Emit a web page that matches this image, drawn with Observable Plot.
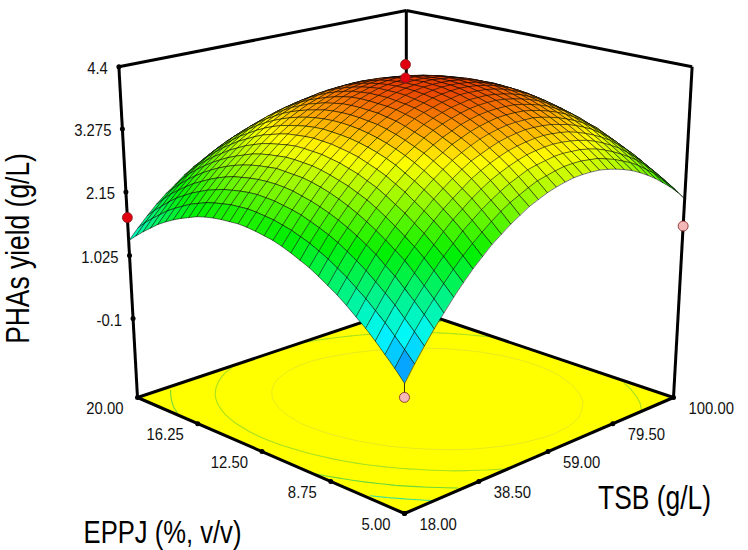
<!DOCTYPE html>
<html><head><meta charset="utf-8">
<style>html,body{margin:0;background:#fff}svg{display:block}</style>
<script src="https://cdn.jsdelivr.net/npm/d3@7"></script>
<script src="https://cdn.jsdelivr.net/npm/@observablehq/plot@0.6"></script>
</head><body><script>
const eppjTicks=[5,8.75,12.5,16.25,20];
const tsbTicks=[18,38.5,59,79.5,100];
const zTicks=[-0.1,1.025,2.15,3.275,4.4];
// PHAs yield (g/L) estimated from the picture on the 33 x 33 mesh.
// One row per TSB step (18 to 100 g/L); within a row, EPPJ runs from 5 to 20 %.
const yieldGrid=[
[.57,.75,.91,1.07,1.22,1.35,1.48,1.60,1.70,1.80,1.89,1.96,2.03,2.09,2.14,2.17,2.20,2.22,2.23,2.22,2.21,2.19,2.16,2.12,2.06,2.00,1.93,1.85,1.76,1.65,1.54,1.42,1.29],
[.82,.99,1.15,1.31,1.45,1.59,1.71,1.83,1.93,2.03,2.11,2.19,2.25,2.31,2.35,2.39,2.41,2.43,2.44,2.43,2.42,2.39,2.36,2.32,2.26,2.20,2.12,2.04,1.95,1.84,1.73,1.61,1.47],
[1.05,1.22,1.38,1.54,1.68,1.81,1.94,2.05,2.15,2.25,2.33,2.40,2.46,2.52,2.56,2.59,2.62,2.63,2.64,2.63,2.61,2.58,2.55,2.50,2.45,2.38,2.31,2.22,2.13,2.02,1.90,1.78,1.64],
[1.27,1.44,1.60,1.75,1.90,2.02,2.15,2.26,2.36,2.45,2.53,2.60,2.66,2.71,2.75,2.79,2.81,2.82,2.82,2.81,2.79,2.76,2.73,2.68,2.62,2.55,2.47,2.39,2.29,2.18,2.07,1.94,1.80],
[1.47,1.64,1.80,1.95,2.10,2.22,2.34,2.45,2.55,2.64,2.72,2.79,2.85,2.90,2.94,2.97,2.98,2.99,3.00,2.98,2.96,2.93,2.89,2.84,2.78,2.71,2.63,2.54,2.44,2.33,2.21,2.08,1.94],
[1.67,1.83,1.99,2.14,2.28,2.40,2.52,2.63,2.73,2.82,2.89,2.96,3.01,3.06,3.10,3.13,3.14,3.15,3.15,3.13,3.11,3.08,3.04,2.98,2.92,2.85,2.77,2.68,2.58,2.47,2.35,2.21,2.06],
[1.85,2.01,2.17,2.31,2.45,2.57,2.69,2.79,2.89,2.98,3.05,3.12,3.17,3.22,3.25,3.28,3.29,3.30,3.30,3.28,3.25,3.22,3.18,3.12,3.06,2.98,2.90,2.80,2.70,2.59,2.47,2.33,2.19],
[2.02,2.18,2.33,2.48,2.61,2.73,2.84,2.95,3.04,3.13,3.20,3.26,3.32,3.36,3.39,3.42,3.43,3.44,3.43,3.41,3.39,3.35,3.30,3.25,3.18,3.10,3.02,2.92,2.82,2.70,2.58,2.44,2.30],
[2.17,2.33,2.49,2.63,2.76,2.88,2.99,3.09,3.18,3.27,3.34,3.40,3.45,3.49,3.52,3.54,3.55,3.56,3.55,3.53,3.50,3.46,3.42,3.36,3.29,3.21,3.12,3.03,2.92,2.80,2.68,2.54,2.39],
[2.32,2.47,2.62,2.76,2.89,3.01,3.12,3.22,3.31,3.39,3.46,3.52,3.57,3.61,3.64,3.66,3.67,3.67,3.66,3.64,3.61,3.57,3.52,3.46,3.39,3.31,3.22,3.12,3.01,2.90,2.77,2.63,2.48],
[2.44,2.60,2.75,2.89,3.01,3.13,3.24,3.34,3.43,3.50,3.57,3.63,3.68,3.72,3.74,3.76,3.77,3.77,3.76,3.74,3.70,3.66,3.61,3.55,3.48,3.39,3.30,3.20,3.09,2.97,2.84,2.70,2.54],
[2.56,2.72,2.86,3.00,3.13,3.24,3.35,3.44,3.53,3.61,3.67,3.73,3.78,3.81,3.84,3.85,3.86,3.86,3.85,3.82,3.79,3.74,3.69,3.62,3.55,3.46,3.37,3.27,3.15,3.03,2.90,2.75,2.60],
[2.66,2.82,2.96,3.10,3.22,3.34,3.44,3.54,3.62,3.70,3.76,3.82,3.86,3.90,3.92,3.93,3.94,3.94,3.93,3.90,3.86,3.81,3.75,3.69,3.61,3.52,3.43,3.32,3.20,3.08,2.94,2.79,2.63],
[2.76,2.90,3.05,3.18,3.30,3.41,3.52,3.61,3.69,3.77,3.83,3.89,3.93,3.96,3.98,4.00,4.00,4.00,3.98,3.96,3.92,3.87,3.81,3.74,3.66,3.57,3.47,3.36,3.25,3.12,2.98,2.83,2.66],
[2.83,2.98,3.12,3.25,3.37,3.48,3.59,3.68,3.76,3.83,3.89,3.94,3.98,4.01,4.04,4.05,4.05,4.05,4.03,4.00,3.96,3.91,3.85,3.78,3.70,3.60,3.50,3.39,3.27,3.14,3.00,2.85,2.68],
[2.90,3.05,3.19,3.31,3.43,3.54,3.64,3.73,3.81,3.88,3.94,3.99,4.03,4.06,4.08,4.09,4.09,4.08,4.06,4.03,3.99,3.94,3.88,3.80,3.72,3.62,3.52,3.41,3.29,3.15,3.01,2.86,2.69],
[2.95,3.09,3.23,3.36,3.47,3.58,3.68,3.77,3.85,3.92,3.97,4.02,4.06,4.09,4.11,4.11,4.11,4.10,4.08,4.05,4.00,3.95,3.89,3.81,3.73,3.63,3.53,3.41,3.29,3.15,3.01,2.85,2.67],
[2.99,3.13,3.26,3.39,3.50,3.61,3.71,3.80,3.87,3.94,4.00,4.05,4.08,4.11,4.12,4.13,4.12,4.11,4.09,4.05,4.01,3.95,3.89,3.81,3.72,3.62,3.52,3.40,3.27,3.14,2.99,2.83,2.65],
[3.02,3.16,3.29,3.41,3.52,3.63,3.72,3.81,3.88,3.95,4.00,4.05,4.09,4.11,4.12,4.13,4.12,4.11,4.08,4.04,3.99,3.93,3.87,3.79,3.70,3.60,3.49,3.37,3.24,3.10,2.95,2.79,2.61],
[3.03,3.17,3.30,3.42,3.53,3.63,3.72,3.81,3.88,3.95,4.00,4.04,4.08,4.10,4.11,4.11,4.10,4.09,4.06,4.02,3.97,3.91,3.84,3.76,3.67,3.56,3.45,3.33,3.20,3.05,2.90,2.74,2.56],
[3.03,3.17,3.29,3.41,3.52,3.62,3.72,3.80,3.87,3.93,3.98,4.03,4.06,4.08,4.09,4.09,4.08,4.06,4.03,3.99,3.94,3.88,3.80,3.72,3.62,3.52,3.40,3.28,3.14,3.00,2.84,2.68,2.50],
[3.02,3.15,3.28,3.39,3.50,3.60,3.69,3.77,3.84,3.90,3.95,4.00,4.03,4.05,4.06,4.05,4.04,4.02,3.99,3.95,3.89,3.83,3.75,3.67,3.57,3.46,3.35,3.22,3.08,2.93,2.78,2.61,2.43],
[2.99,3.13,3.25,3.36,3.47,3.56,3.65,3.73,3.80,3.86,3.91,3.96,3.99,4.00,4.01,4.01,3.99,3.97,3.94,3.90,3.84,3.77,3.70,3.61,3.51,3.40,3.28,3.15,3.01,2.86,2.70,2.53,2.34],
[2.95,3.08,3.21,3.32,3.42,3.52,3.60,3.68,3.75,3.81,3.86,3.90,3.93,3.95,3.95,3.95,3.93,3.91,3.88,3.83,3.77,3.70,3.63,3.54,3.44,3.32,3.20,3.07,2.93,2.77,2.61,2.44,2.25],
[2.90,3.03,3.15,3.26,3.36,3.46,3.54,3.62,3.69,3.75,3.79,3.84,3.87,3.88,3.89,3.88,3.86,3.84,3.80,3.76,3.70,3.63,3.55,3.46,3.35,3.24,3.11,2.98,2.83,2.68,2.51,2.34,2.15],
[2.84,2.96,3.08,3.19,3.29,3.39,3.47,3.55,3.61,3.67,3.72,3.76,3.79,3.80,3.81,3.80,3.78,3.75,3.72,3.67,3.61,3.54,3.46,3.36,3.26,3.14,3.01,2.88,2.73,2.57,2.40,2.22,2.03],
[2.76,2.89,3.00,3.11,3.21,3.31,3.39,3.46,3.53,3.58,3.63,3.67,3.70,3.71,3.72,3.71,3.69,3.66,3.62,3.57,3.51,3.44,3.35,3.26,3.15,3.03,2.90,2.76,2.61,2.45,2.28,2.10,1.90],
[2.67,2.80,2.91,3.02,3.12,3.21,3.29,3.36,3.43,3.48,3.53,3.57,3.60,3.61,3.61,3.60,3.58,3.55,3.51,3.46,3.40,3.32,3.24,3.14,3.03,2.91,2.78,2.64,2.49,2.32,2.15,1.96,1.76],
[2.57,2.69,2.81,2.91,3.01,3.10,3.18,3.25,3.32,3.37,3.42,3.45,3.48,3.49,3.50,3.49,3.46,3.43,3.39,3.34,3.27,3.20,3.11,3.01,2.90,2.78,2.65,2.50,2.35,2.18,2.00,1.82,1.62],
[2.45,2.58,2.69,2.79,2.89,2.98,3.06,3.14,3.19,3.24,3.29,3.33,3.35,3.36,3.36,3.35,3.33,3.30,3.25,3.20,3.13,3.05,2.96,2.86,2.75,2.63,2.50,2.35,2.20,2.03,1.85,1.66,1.46],
[2.33,2.44,2.56,2.66,2.76,2.84,2.92,2.99,3.05,3.10,3.15,3.18,3.21,3.22,3.22,3.21,3.18,3.15,3.10,3.04,2.97,2.89,2.80,2.70,2.59,2.47,2.33,2.18,2.02,1.85,1.67,1.48,1.29],
[2.19,2.30,2.41,2.51,2.61,2.69,2.77,2.84,2.90,2.95,2.99,3.02,3.05,3.06,3.06,3.05,3.02,2.99,2.94,2.88,2.81,2.73,2.63,2.53,2.42,2.29,2.15,2.00,1.84,1.67,1.49,1.29,1.09],
[2.03,2.15,2.26,2.36,2.45,2.53,2.60,2.67,2.73,2.78,2.82,2.85,2.88,2.89,2.88,2.87,2.84,2.81,2.76,2.70,2.63,2.55,2.45,2.34,2.23,2.10,1.96,1.81,1.65,1.48,1.29,1.10,.90]
];
const N=yieldGrid.length-1;
const contourLevels=[1.3,1.9,2.6,3.3];
const contourColors=["#40e090","#70d838","#a8e020","#dfe428"];
const zToT=d3.scaleLinear([-1.51,-0.1,1.025,2.15,3.275,4.4],[0,.251,.4457,.637,.8215,1]);
const wF=.776,wLR=.888,c=-.0577;
const F=[404,513],L=[137,397],R=[673,397],V=[405,5157];
function proj(u,v,t){const hx=wF*F[0]+u*(wLR*L[0]-wF*F[0])+v*(wLR*R[0]-wF*F[0])+t*c*V[0];
 const hy=wF*F[1]+u*(wLR*L[1]-wF*F[1])+v*(wLR*R[1]-wF*F[1])+t*c*V[1];
 const w=wF+u*(wLR-wF)+v*(wLR-wF)+t*c;return [hx/w,hy/w];}
const uOf=e=>(e-5)/15,vOf=b=>(b-18)/82;
const P=(e,b,z)=>proj(uOf(e),vOf(b),zToT(z));
const Pf=(e,b)=>proj(uOf(e),vOf(b),0);
const quads=[];
for(let j=N-1;j>=0;j--)for(let i=N-1;i>=0;i--){const id=j*100+i;
 const zc=(yieldGrid[j][i]+yieldGrid[j][i+1]+yieldGrid[j+1][i]+yieldGrid[j+1][i+1])/4;
 for(const [a,b] of [[i,j],[i+1,j],[i+1,j+1],[i,j+1]]){const p=proj(a/N,b/N,zToT(yieldGrid[b][a]));quads.push({id,x:p[0],y:p[1],z:zc});}}
const flat=yieldGrid.flat();
const contourRows=lv=>{const rows=[];
 d3.contours().size([N+1,N+1]).thresholds([lv])(flat).forEach(g=>g.coordinates.forEach((poly,k)=>poly.forEach((ring,m)=>ring.forEach(([cx,cy])=>{
 const edge=cx<=.5||cx>=N+.5||cy<=.5||cy>=N+.5;const p=proj((cx-.5)/N,(cy-.5)/N,0);
 rows.push({id:k+"-"+m,x:edge?NaN:p[0],y:edge?NaN:p[1]});}))));return rows;};
const floorPoly=[[5,18],[20,18],[20,100],[5,100]].map(([e,b])=>{const p=Pf(e,b);return {x:p[0],y:p[1]};});
const zLo=-1.51,zHi=4.4;
const seg=(a,b)=>({x1:a[0],y1:a[1],x2:b[0],y2:b[1]});
const frame=[
 seg(P(20,18,zLo),P(20,18,zHi)),seg(P(5,100,zLo),P(5,100,zHi)),seg(P(20,100,zLo),P(20,100,zHi)),
 seg(P(20,18,zHi),P(20,100,zHi)),seg(P(5,100,zHi),P(20,100,zHi)),
 seg(P(20,18,zLo),P(20,100,zLo)),seg(P(5,100,zLo),P(20,100,zLo)),
 seg(P(5,18,zLo),P(20,18,zLo)),seg(P(5,18,zLo),P(5,100,zLo))];
const zTickRows=zTicks.map(z=>{const p=P(20,18,z);return {x:p[0],y:p[1],label:String(z)};});
const eRows=eppjTicks.map(e=>{const p=Pf(e,18);return {x:p[0],y:p[1],label:e.toFixed(2)};});
const tRows=tsbTicks.map(b=>{const p=Pf(5,b);return {x:p[0],y:p[1],label:b.toFixed(2)};});
const pts=[{e:12.5,b:59,z:4.44,f:"#e00010"},{e:12.5,b:59,z:4.2,f:"#e00010"},{e:20,b:18,z:1.7,f:"#e00010"},{e:5,b:100,z:1.55,f:"#f4b8b8"},{e:5,b:18,z:.345,f:"#f4b8b8"}].map(d=>{const p=P(d.e,d.b,d.z);return {x:p[0],y:p[1],f:d.f};});
const stems=[seg(P(5,18,.57),P(5,18,.345)),seg(P(5,100,2.03),P(5,100,1.55))];
const font='"Liberation Sans",sans-serif';
const txt=(rows,o)=>Plot.text(rows,{x:"x",y:"y",text:"label",fontFamily:font,fontSize:16.5,fill:"#111",className:"tk",...o});
const ttl=(t,x,y,o={})=>Plot.text([t],{x:()=>x,y:()=>y,text:d=>d,fontFamily:font,fontSize:32,fill:"#000",className:"ttl",...o});
const chart=Plot.plot({width:748,height:550,margin:0,
 x:{type:"linear",domain:[0,748],range:[0,748],axis:null},
 y:{type:"linear",domain:[0,550],range:[0,550],axis:null},
 color:{type:"linear",domain:[.55,1.15,2.2,3.3,3.7,4.1],range:["#0a70ff","#00f8ff","#00f000","#ffff00","#ffa000","#e84000"],interpolate:"rgb",clamp:true},
 marks:[
  Plot.line(floorPoly,{x:"x",y:"y",curve:"linear-closed",fill:"#ffff00",stroke:"none"}),
  contourLevels.map((lv,i)=>Plot.line(contourRows(lv),{x:"x",y:"y",z:"id",stroke:contourColors[i],strokeWidth:i==3?.8:1.1})),
  Plot.link(frame,{x1:"x1",y1:"y1",x2:"x2",y2:"y2",stroke:"#000",strokeWidth:3}),
  Plot.dot(zTickRows.concat(eRows,tRows),{x:"x",y:"y",r:2.5,fill:"#000"}),
  Plot.line(quads,{x:"x",y:"y",z:"id",fill:"z",curve:"linear-closed",stroke:"#000",strokeWidth:.7,strokeOpacity:.75}),
  Plot.link(stems,{x1:"x1",y1:"y1",x2:"x2",y2:"y2",stroke:"#000",strokeWidth:.8}),
  Plot.dot(pts,{x:"x",y:"y",r:5,fill:"f",stroke:"#802020",strokeWidth:.8}),
  txt(zTickRows,{textAnchor:"end",dx:-11,dy:2}),
  txt(eRows,{textAnchor:"end",dx:-14,dy:11}),
  txt(tRows,{textAnchor:"start",dx:15,dy:11}),
  ttl("PHAs yield (g/L)",18,248,{rotate:-90,fontSize:33}),
  ttl("EPPJ (%, v/v)",162,532),
  ttl("TSB (g/L)",654,498,{fontSize:33})
 ]});
document.body.appendChild(chart);
// Condense the installed sans to the reference's narrow lettering; the text stays real text.
chart.querySelectorAll(".tk text, text.tk").forEach(t=>{t.setAttribute("textLength",t.getComputedTextLength()*.9);t.setAttribute("lengthAdjust","spacingAndGlyphs");});
chart.querySelectorAll(".ttl text, text.ttl").forEach(t=>{t.setAttribute("textLength",t.getComputedTextLength()*.8);t.setAttribute("lengthAdjust","spacingAndGlyphs");});
</script></body></html>
